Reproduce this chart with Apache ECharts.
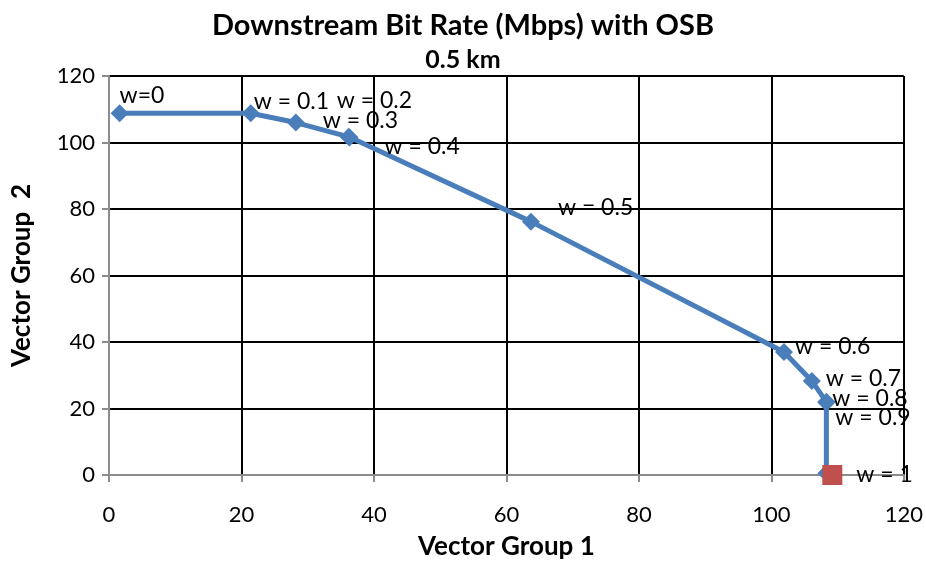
<!DOCTYPE html>
<html>
<head>
<meta charset="utf-8">
<script src="https://cdn.jsdelivr.net/npm/echarts@6/dist/echarts.min.js"></script>
<style>
  html, body { margin: 0; padding: 0; background: #fff; }
  #chart1 { width: 926px; height: 569px; }
</style>
</head>
<body>
<div id="chart1"></div>
<script>
// data
var weights = ['w=0', 'w = 0.1', 'w = 0.2', 'w = 0.3', 'w = 0.4', 'w = 0.5', 'w = 0.6', 'w = 0.7', 'w = 0.8', 'w = 0.9', 'w = 1'];
var group1 = [1.6, 21.4, 28.2, 36.2, 36.3, 63.7, 101.9, 106.1, 108.3, 108.3, 108.3];
var group2 = [108.8, 108.8, 106.0, 101.7, 101.5, 76.2, 37.0, 28.3, 22.0, 21.8, 0.5];
var endPoint = [109.2, 0];
var endLabel = 'w = 1';
var xTicks = [0, 20, 40, 60, 80, 100, 120];
var yTicks = [0, 20, 40, 60, 80, 100, 120];

// label placement (pixels from the marker's box corner)
var labelPos = [[9, -9], [12, -3], [50, -13], [-17, -7], [44, 18], [36, -5], [20, 4], [23, 7], [15, 6], [18, 24], null];

var chart1 = echarts.init(document.getElementById('chart1'));

var lineData = [];
for (var i = 0; i < weights.length; i++) {
  var item = { value: [group1[i], group2[i]] };
  if (labelPos[i]) {
    item.label = {
      show: true,
      formatter: weights[i],
      position: labelPos[i],
      align: 'left',
      verticalAlign: 'middle'
    };
  }
  lineData.push(item);
}

var axisFont = { color: '#000', fontFamily: 'Lato', fontSize: 22 };

var option1 = {
  animation: false,
  title: [
    {
      text: 'Downstream Bit Rate (Mbps) with OSB',
      left: 'center',
      top: 6,
      textStyle: { fontFamily: 'Lato', fontWeight: 'bold', fontSize: 29, color: '#000' }
    },
    {
      text: '0.5 km',
      left: 'center',
      top: 42,
      textStyle: { fontFamily: 'Lato', fontWeight: 'bold', fontSize: 25, color: '#000' }
    }
  ],
  grid: { left: 109, right: 18, top: 76, bottom: 94 },
  xAxis: {
    type: 'value',
    min: xTicks[0],
    max: xTicks[xTicks.length - 1],
    interval: 20,
    name: 'Vector Group 1',
    nameLocation: 'middle',
    nameGap: 59,
    nameTextStyle: { fontFamily: 'Lato', fontWeight: 'bold', fontSize: 26, color: '#000' },
    axisLine: { lineStyle: { color: '#8c8c8c', width: 2 } },
    axisTick: { show: true, length: 7, lineStyle: { color: '#8c8c8c', width: 2 } },
    axisLabel: Object.assign({ margin: 29 }, axisFont),
    splitLine: { show: true, lineStyle: { color: '#000', width: 2 } }
  },
  yAxis: {
    type: 'value',
    min: yTicks[0],
    max: yTicks[yTicks.length - 1],
    interval: 20,
    name: 'Vector Group  2',
    nameLocation: 'middle',
    nameGap: 74,
    nameTextStyle: { fontFamily: 'Lato', fontWeight: 'bold', fontSize: 26, color: '#000' },
    axisLine: { show: true, lineStyle: { color: '#8c8c8c', width: 2 } },
    axisTick: { show: true, length: 7, lineStyle: { color: '#8c8c8c', width: 2 } },
    axisLabel: Object.assign({ margin: 14 }, axisFont),
    splitLine: { show: true, lineStyle: { color: '#000', width: 2 } }
  },
  series: [
    {
      type: 'line',
      data: lineData,
      symbol: 'diamond',
      symbolSize: 18,
      lineStyle: { color: '#4a7ebb', width: 5 },
      itemStyle: { color: '#4a7ebb' },
      label: { color: '#000', fontFamily: 'Lato', fontSize: 23 },
      z: 3
    },
    {
      type: 'scatter',
      data: [{
        value: endPoint,
        label: {
          show: true,
          formatter: endLabel,
          position: [34, 10],
          align: 'left',
          verticalAlign: 'middle',
          color: '#000',
          fontFamily: 'Lato',
          fontSize: 23
        }
      }],
      symbol: 'rect',
      symbolSize: 20,
      itemStyle: { color: '#c0504d', opacity: 1 },
      z: 4
    }
  ]
};

chart1.setOption(option1);

window.onresize = function () {
  chart1.resize();
};
</script>
</body>
</html>
